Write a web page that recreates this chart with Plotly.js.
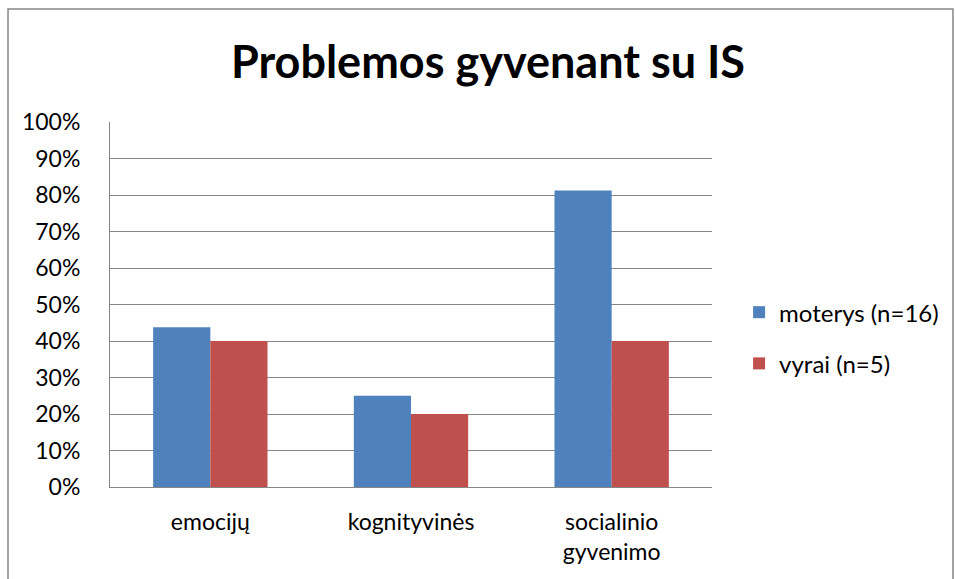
<!DOCTYPE html>
<html>
<head>
<meta charset="utf-8">
<script src="https://cdn.plot.ly/plotly-3.0.1.min.js"></script>
<style>html,body{margin:0;padding:0;background:#fff;}#chart{width:955px;height:579px;}</style>
</head>
<body>
<div id="chart"></div>
<script>
const categories = ["emocijų", "kognityvinės", "socialinio<br>gyvenimo"];
const moterys = [0.4375, 0.25, 0.8125];
const vyrai = [0.40, 0.20, 0.40];
const seriesNames = ["moterys (n=16)", "vyrai (n=5)"];
const yTickVals = [0, 0.1, 0.2, 0.3, 0.4, 0.5, 0.6, 0.7, 0.8, 0.9, 1.0];
const yTickText = ["0%", "10%", "20%", "30%", "40%", "50%", "60%", "70%", "80%", "90%", "100%"];

const font = "Lato, 'Open Sans', sans-serif";
const grid = "#868686";

const data = [
  {type: "bar", x: categories, y: moterys, name: seriesNames[0], marker: {color: "#4F81BD"}, legendgroup: "a", hoverinfo: "none"},
  {type: "bar", x: categories, y: vyrai, name: seriesNames[1], marker: {color: "#C0504D"}, legendgroup: "b", hoverinfo: "none"}
];

const layout = {
  width: 955, height: 579,
  margin: {l: 110, r: 243, t: 122, b: 92, pad: 0, autoexpand: false},
  paper_bgcolor: "#fff", plot_bgcolor: "#fff",
  font: {family: font, size: 23, color: "#000"},
  title: {text: "<b>Problemos gyvenant su IS</b>", font: {family: font, size: 45, color: "#000"}, x: 0.511, xanchor: "center", y: 0.893, yanchor: "middle"},
  barmode: "group", bargap: 0.43, bargroupgap: 0,
  xaxis: {showgrid: false, showline: true, linecolor: grid, linewidth: 1, ticks: "", ticklabelstandoff: 14, tickfont: {size: 23}, zeroline: false, automargin: false},
  yaxis: {range: [0, 1], tickvals: yTickVals, ticktext: yTickText, showgrid: true, gridcolor: grid, gridwidth: 1, showline: true, linecolor: grid, linewidth: 1, ticks: "", ticklabelstandoff: 24, zeroline: false, tickfont: {size: 23}, automargin: false},
  legend: {x: 1.045, xanchor: "left", y: 0.408, yanchor: "middle", font: {size: 24}, tracegroupgap: 17, itemwidth: 30, bgcolor: "rgba(0,0,0,0)"},
  shapes: [
    {type: "rect", xref: "paper", yref: "paper", x0: -0.1694, x1: 1.4003, y0: -0.35, y1: 1.3096, line: {color: grid, width: 1.5}, fillcolor: "rgba(0,0,0,0)", layer: "below"}
  ]
};

Plotly.newPlot("chart", data, layout, {displayModeBar: false, staticPlot: true});
</script>
</body>
</html>
